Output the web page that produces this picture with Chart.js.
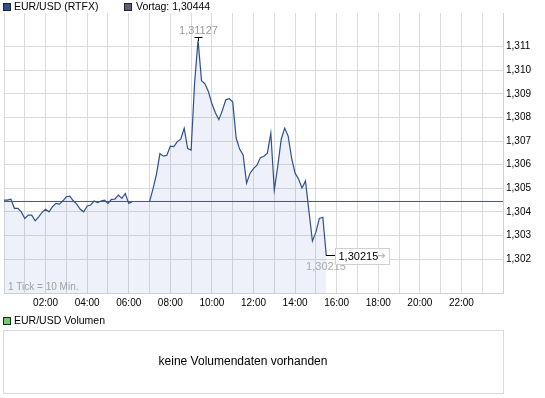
<!DOCTYPE html>
<html>
<head>
<meta charset="utf-8">
<script src="https://cdn.jsdelivr.net/npm/chart.js@4"></script>
<style>
  html, body { margin: 0; padding: 0; background: #fff; }
</style>
</head>
<body>
<canvas id="chart" width="545" height="398"></canvas>
<script>
// EUR/USD intraday, one tick = 10 minutes, starting at 00:00
const TICK_MIN = 10;
const VORTAG = 1.30444;
const prices = [
  1.30450, 1.30450, 1.30454, 1.30415, 1.30415, 1.30400, 1.30372, 1.30386, 1.30386, 1.30362,
  1.30379, 1.30398, 1.30411, 1.30400, 1.30422, 1.30436, 1.30433, 1.30447, 1.30464, 1.30467,
  1.30447, 1.30433, 1.30411, 1.30400, 1.30425, 1.30429, 1.30446, 1.30439, 1.30446, 1.30450,
  1.30436, 1.30453, 1.30454, 1.30471, 1.30457, 1.30478, 1.30436, 1.30443, 1.30444, 1.30444,
  1.30444, 1.30444, 1.30443, 1.30497, 1.30560, 1.30647, 1.30636, 1.30640, 1.30679, 1.30677,
  1.30698, 1.30708, 1.30754, 1.30668, 1.30662, 1.30946, 1.31127, 1.30956, 1.30943, 1.30909,
  1.30858, 1.30820, 1.30791, 1.30829, 1.30875, 1.30880, 1.30867, 1.30713, 1.30666, 1.30641,
  1.30522, 1.30564, 1.30583, 1.30598, 1.30630, 1.30636, 1.30649, 1.30734, 1.30492, 1.30594,
  1.30708, 1.30755, 1.30721, 1.30628, 1.30564, 1.30539, 1.30501, 1.30531, 1.30403, 1.30276,
  1.30314, 1.30372, 1.30377, 1.30215
];
// no trades between these ticks (line not drawn)
const GAP_FROM = 37;
const GAP_TO = 42;
const yTicks = [1.302, 1.303, 1.304, 1.305, 1.306, 1.307, 1.308, 1.309, 1.310, 1.311];
const Y_MIN = 1.30056;
const Y_MAX = 1.31243;

const FONT = '"Liberation Sans", Arial, sans-serif';
const fmt = (v, d) => v.toFixed(d).replace('.', ',');

const extras = {
  id: 'extras',
  afterDatasetsDraw(chart) {
    const ctx = chart.ctx;
    const xs = chart.scales.x, ys = chart.scales.y;
    const area = chart.chartArea;
    ctx.save();

    // tick info
    ctx.font = '10px ' + FONT;
    ctx.fillStyle = '#a0a0a0';
    ctx.textAlign = 'left';
    ctx.textBaseline = 'alphabetic';
    ctx.fillText('1 Tick = 10 Min.', area.left + 4, area.bottom - 3);

    // day high
    const iMax = prices.indexOf(Math.max(...prices));
    const hx = Math.round(xs.getPixelForValue(iMax * TICK_MIN / 60)) + 0.5;
    const hy = Math.round(ys.getPixelForValue(prices[iMax]));
    ctx.strokeStyle = '#000';
    ctx.lineWidth = 1;
    ctx.beginPath();
    ctx.moveTo(hx - 4, hy - 2.5); ctx.lineTo(hx + 4, hy - 2.5);
    ctx.moveTo(hx, hy - 2.5); ctx.lineTo(hx, hy + 1);
    ctx.stroke();
    ctx.font = '11px ' + FONT;
    ctx.fillStyle = '#999';
    ctx.textAlign = 'center';
    ctx.textBaseline = 'bottom';
    ctx.fillText(fmt(prices[iMax], 5), hx, hy - 4);

    // last price / day low
    const iLast = prices.length - 1;
    const lx = Math.round(xs.getPixelForValue(iLast * TICK_MIN / 60));
    const ly = Math.round(ys.getPixelForValue(prices[iLast])) + 0.5;
    ctx.fillStyle = '#aaa';
    ctx.textBaseline = 'top';
    ctx.fillText(fmt(prices[iLast], 5), lx, ly + 6);

    ctx.beginPath();
    ctx.moveTo(lx, ly); ctx.lineTo(lx + 9, ly);
    ctx.strokeStyle = '#000';
    ctx.stroke();
    const bx = lx + 9.5, by = ly - 7, bw = 54, bh = 16;
    ctx.fillStyle = '#fff';
    ctx.fillRect(bx, by, bw, bh);
    ctx.strokeStyle = '#d0d0d0';
    ctx.strokeRect(bx, by, bw, bh);
    ctx.fillStyle = '#000';
    ctx.textAlign = 'left';
    ctx.textBaseline = 'middle';
    ctx.fillText(fmt(prices[iLast], 5), bx + 3, ly + 1);
    ctx.fillStyle = '#b8b8b8';
    ctx.font = '10px "DejaVu Sans", sans-serif';
    ctx.fillText('\u2794', bx + 42, ly + 1);
    ctx.restore();
  },
  afterDraw(chart) {
    const ctx = chart.ctx;
    ctx.save();
    const square = (x, y, color) => {
      ctx.fillStyle = color;
      ctx.fillRect(x, y, 8, 8);
      ctx.strokeStyle = '#222';
      ctx.strokeRect(x + 0.5, y + 0.5, 7, 7);
    };
    ctx.font = '10.5px ' + FONT;
    ctx.textAlign = 'left';
    ctx.textBaseline = 'middle';

    // top legend
    square(3, 3, '#2f4f8f');
    ctx.fillStyle = '#000';
    ctx.fillText('EUR/USD (RTFX)', 14, 7.5);
    square(124, 3, '#5a5f78');
    ctx.fillStyle = '#000';
    ctx.fillText('Vortag: ' + fmt(VORTAG, 5), 136, 7.5);

    // volume panel
    square(3, 317, '#6ccf6c');
    ctx.fillStyle = '#000';
    ctx.fillText('EUR/USD Volumen', 14, 321.5);
    ctx.strokeStyle = '#d9d9d9';
    ctx.strokeRect(3.5, 330.5, 500, 63);
    ctx.font = '12px ' + FONT;
    ctx.textAlign = 'center';
    ctx.fillStyle = '#000';
    ctx.fillText('keine Volumendaten vorhanden', 243, 362);
    ctx.restore();
  }
};

new Chart(document.getElementById('chart'), {
  type: 'line',
  data: {
    datasets: [
      {
        label: 'EUR/USD (RTFX)',
        data: prices.map((p, i) => ({ x: i * TICK_MIN / 60, y: p })),
        borderColor: '#2f4f8f',
        borderWidth: 1.2,
        backgroundColor: 'rgba(60, 90, 200, 0.085)',
        fill: 'start',
        pointRadius: 0,
        tension: 0,
        segment: {
          borderColor: c => (c.p0DataIndex >= GAP_FROM && c.p1DataIndex <= GAP_TO) ? 'rgba(0,0,0,0)' : undefined
        }
      },
      {
        label: 'Vortag',
        data: [{ x: 0, y: VORTAG }, { x: 24, y: VORTAG }],
        borderColor: '#4f5570',
        borderWidth: 1,
        pointRadius: 0,
        fill: false
      }
    ]
  },
  options: {
    responsive: false,
    animation: false,
    layout: { padding: { left: 4, top: 13, right: 0, bottom: 88 } },
    plugins: {
      legend: { display: false },
      tooltip: { enabled: false },
      filler: { drawTime: 'beforeDatasetsDraw' }
    },
    scales: {
      x: {
        type: 'linear',
        min: 0,
        max: 24,
        afterFit: s => { s.height = 17; },
        grid: { color: '#dadada', drawTicks: false },
        border: { color: '#d0d0d0' },
        ticks: {
          stepSize: 1,
          autoSkip: false,
          maxRotation: 0,
          padding: 4,
          color: '#000',
          font: { family: FONT, size: 10 },
          callback: v => (v % 2 === 0 && v > 0 && v < 24) ? String(v).padStart(2, '0') + ':00' : ''
        }
      },
      y: {
        type: 'linear',
        position: 'right',
        min: Y_MIN,
        max: Y_MAX,
        afterFit: s => { s.width = 42; },
        afterBuildTicks: s => { s.ticks = yTicks.map(v => ({ value: v })); },
        grid: { color: '#dadada', drawTicks: false },
        border: { color: '#d0d0d0' },
        ticks: {
          padding: 3,
          color: '#000',
          font: { family: FONT, size: 10 },
          callback: v => fmt(v, 3)
        }
      }
    }
  },
  plugins: [extras]
});
</script>
</body>
</html>
